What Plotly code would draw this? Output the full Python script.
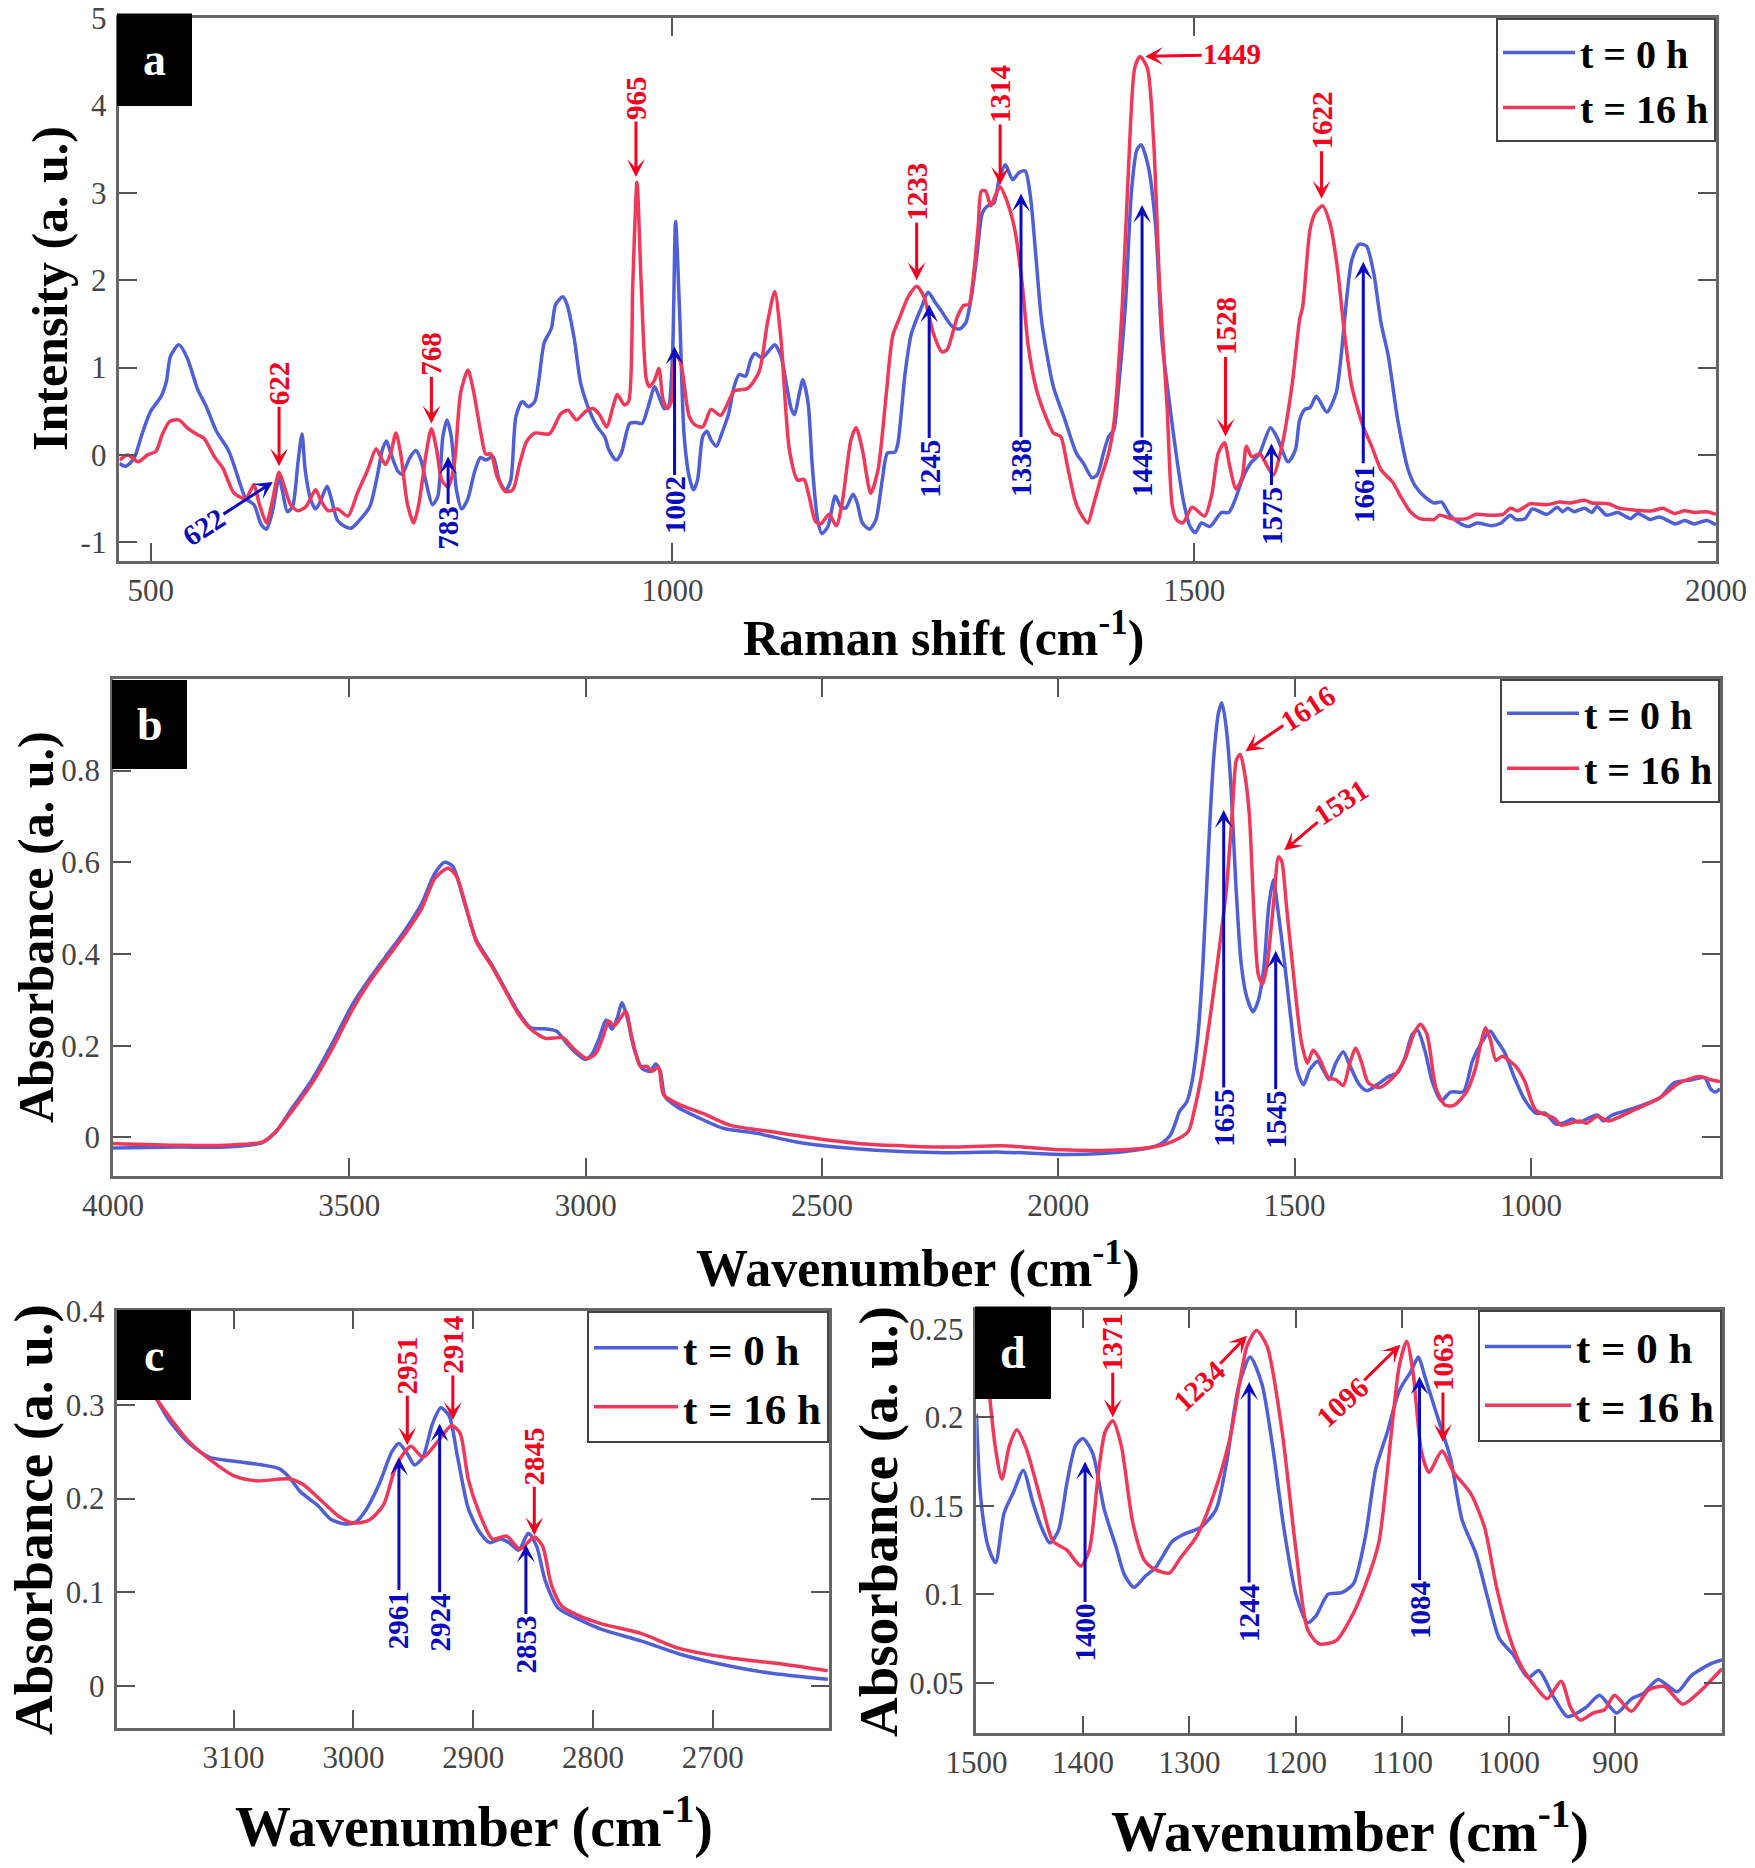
import plotly.graph_objects as go

W, H = 1755, 1868
# the page body keeps its 8px default margin, so everything is drawn 8px in from the corner
PAGE = 8
FIG_W, FIG_H = W - PAGE, H - PAGE
BLUE = '#4e5fd8'
RED = '#f2385a'
LABEL_BLUE = '#0a0ac0'
LABEL_RED = '#f5001e'
SERIF = 'Liberation Serif'

# panel a: Raman
raman_x_0h = [470, 476, 484, 492, 500, 510, 515, 519, 527, 535, 545, 553, 563, 575, 587, 591, 599, 606, 611, 617, 623, 626, 631, 636, 641, 645, 648, 653, 658, 663, 669, 673, 679, 686, 692, 700, 710, 717, 722, 726, 730, 737, 741, 748, 754, 759, 764, 770, 775, 780, 784, 788, 793, 798, 804, 810, 816, 821, 828, 834, 840, 845, 850,
              856, 862, 868, 872, 877, 884, 888, 895, 899, 906, 912, 919, 928, 935, 939, 946, 951, 959, 965, 971, 976, 983, 987, 992, 996, 1000, 1003, 1007, 1011, 1016, 1020, 1024, 1029, 1033, 1037, 1042, 1048, 1054, 1059, 1064, 1070, 1075, 1079, 1086, 1093, 1098, 1104, 1109, 1114, 1117, 1121, 1125, 1130, 1134, 1139, 1143, 1149, 1156, 1161, 1166, 1173, 1177, 1182, 1189, 1195, 1201, 1206, 1213, 1216,
              1223, 1229, 1239, 1245, 1252, 1258, 1268, 1275, 1281, 1287, 1292, 1297, 1302, 1308, 1313, 1319, 1326, 1332, 1338, 1343, 1348, 1354, 1365, 1375, 1387, 1394, 1402, 1407, 1413, 1418, 1423, 1427, 1434, 1440, 1445, 1449, 1456, 1463, 1469, 1475, 1483, 1490, 1496, 1501, 1507, 1515, 1526, 1533, 1539, 1547, 1555, 1562, 1573, 1579, 1590, 1597,
              1601, 1606, 1611, 1617, 1627, 1636, 1641, 1646, 1651, 1658, 1665, 1672, 1679, 1686, 1695, 1705, 1712, 1721, 1730, 1737, 1745, 1754, 1763, 1771, 1785, 1794, 1803, 1808, 1817, 1824, 1838, 1848, 1853, 1858, 1864, 1874, 1881, 1886, 1895, 1906, 1918, 1925, 1937, 1946, 1961, 1970, 1979, 1991, 2000]
raman_y_0h = [-0.10, -0.13, -0.04, 0.25, 0.50, 0.67, 0.84, 1.13, 1.26, 1.11, 0.75, 0.56, 0.27, 0.04, -0.38, -0.50, -0.57, -0.80, -0.85, -0.63, -0.25, -0.40, -0.65, -0.59, -0.10, 0.24, -0.17, -0.50, -0.62, -0.52, -0.36, -0.50, -0.75, -0.82, -0.84, -0.75, -0.59, -0.25, 0.06, 0.16, 0.02, -0.19, -0.22, -0.04, 0.05, -0.06, -0.32, -0.57, -0.48, 0.21, 0.40, 0.21, -0.40, -0.62, -0.50, -0.21, -0.03, -0.06, -0.02, -0.29, -0.41, -0.29, 0.44,
              0.61, 0.55, 0.61, 0.86, 1.28, 1.45, 1.72, 1.81, 1.72, 1.32, 0.82, 0.55, 0.32, 0.21, 0.06, -0.06, 0.02, 0.36, 0.37, 0.36, 0.52, 0.78, 0.67, 0.53, 0.55, 1.13, 2.67, 1.58, 0.25, -0.25, -0.40, -0.29, 0.21, 0.27, 0.17, 0.10, 0.27, 0.48, 0.78, 0.92, 0.90, 1.09, 1.16, 1.11, 1.20, 1.26, 1.13, 0.82, 0.52, 0.46, 0.67, 0.86, 0.59, -0.13, -0.74, -0.90, -0.82, -0.47, -0.59, -0.61, -0.45, -0.55, -0.78, -0.85, -0.74, -0.29, 0.02, 0.03, 0.13,
              0.94, 1.39, 1.70, 1.86, 1.74, 1.64, 1.47, 1.44, 1.51, 1.85, 2.31, 2.77, 2.85, 2.88, 3.15, 3.32, 3.15, 3.23, 3.25, 2.96, 2.31, 1.51, 0.78, 0.44, 0.02, -0.10, -0.26, -0.23, 0.02, 0.21, 0.29, 0.71, 1.70, 3.04, 3.49, 3.55, 3.30, 2.62, 1.32, 0.71, -0.02, -0.55, -0.82, -0.89, -0.78, -0.82, -0.66, -0.66, -0.52, -0.25, -0.08, 0.0, 0.31, 0.21, -0.08, 0.06,
              0.40, 0.52, 0.54, 0.67, 0.49, 0.71, 1.16, 1.78, 2.23, 2.41, 2.39, 2.08, 1.51, 1.13, 0.40, -0.17, -0.36, -0.48, -0.55, -0.54, -0.69, -0.78, -0.82, -0.78, -0.81, -0.78, -0.69, -0.74, -0.73, -0.62, -0.68, -0.60, -0.65, -0.61, -0.65, -0.61, -0.66, -0.59, -0.69, -0.66, -0.73, -0.67, -0.74, -0.71, -0.79, -0.75, -0.79, -0.75, -0.80]
raman_x_16h = [470, 478, 488, 497, 505, 511, 518, 527, 535, 545, 551, 561, 569, 580, 591, 596, 599, 604, 611, 616, 623, 628, 634, 641, 649, 658, 663, 670, 679, 689, 698, 708, 716, 721, 725, 730, 735, 740, 746, 752, 757, 764, 769, 774, 779, 785, 791, 797, 804, 809, 817, 821, 826, 832, 840, 847,
               853, 860, 868, 882, 893, 900, 908, 917, 924, 930, 937, 943, 947, 954, 958, 962, 966, 970, 975, 978, 983, 987, 991, 995, 999, 1003, 1008, 1016, 1022, 1029, 1037, 1046, 1053, 1059, 1072, 1083, 1091, 1098, 1104, 1112, 1120, 1126, 1131, 1137, 1142, 1150, 1157, 1163, 1171, 1176, 1182, 1190, 1197, 1205, 1211,
               1218, 1226, 1234, 1241, 1250, 1258, 1263, 1273, 1279, 1284, 1288, 1293, 1296, 1300, 1305, 1309, 1314, 1320, 1328, 1335, 1341, 1349, 1359, 1365, 1372, 1378, 1386, 1392, 1398, 1403, 1410, 1418, 1423, 1431, 1439, 1443, 1448, 1455, 1461, 1467, 1474, 1479, 1483, 1489, 1498, 1510, 1517, 1523, 1529, 1534, 1540, 1546, 1550, 1555, 1563, 1570, 1576, 1584, 1594, 1601,
               1604, 1611, 1616, 1623, 1630, 1637, 1644, 1651, 1662, 1670, 1679, 1690, 1698, 1707, 1716, 1726, 1730, 1735, 1747, 1761, 1770, 1782, 1796, 1803, 1810, 1822, 1838, 1850, 1860, 1874, 1881, 1897, 1907, 1921, 1939, 1949, 1960, 1970, 1980, 1991, 2000]
raman_y_16h = [-0.06, 0.0, -0.08, 0.0, 0.04, 0.23, 0.38, 0.40, 0.31, 0.23, 0.19, -0.02, -0.15, -0.44, -0.50, -0.40, -0.34, -0.56, -0.78, -0.56, -0.20, -0.36, -0.57, -0.64, -0.59, -0.40, -0.52, -0.64, -0.62, -0.70, -0.44, -0.17, 0.07, -0.04, -0.11, 0.02, 0.25, -0.02, -0.56, -0.78, -0.56, 0.02, 0.30, 0.06, -0.29, -0.37, -0.10, 0.71, 0.97, 0.75, 0.21, 0.01, 0.01, -0.25, -0.42, -0.40,
               -0.13, 0.15, 0.25, 0.24, 0.47, 0.51, 0.40, 0.50, 0.53, 0.46, 0.32, 0.55, 0.69, 0.57, 0.61, 1.97, 3.12, 1.97, 0.86, 0.78, 0.86, 0.99, 0.63, 0.53, 0.61, 1.16, 1.05, 0.44, 0.34, 0.32, 0.52, 0.45, 0.59, 0.73, 0.76, 0.95, 1.51, 1.87, 1.32, 0.06, -0.29, -0.28, -0.48, -0.76, -0.79, -0.68, -0.81, -0.52, 0.17, 0.31, 0.06, -0.44, -0.17, 0.71, 1.36,
               1.58, 1.81, 1.93, 1.81, 1.39, 1.18, 1.20, 1.58, 1.71, 1.72, 2.00, 2.62, 3.02, 3.02, 2.85, 2.96, 3.07, 2.92, 2.58, 1.97, 1.24, 0.74, 0.40, 0.25, 0.21, -0.10, -0.53, -0.69, -0.78, -0.59, -0.29, 0.02, 0.36, 1.70, 3.80, 4.43, 4.56, 4.43, 3.61, 1.89, 0.55, -0.59, -0.74, -0.78, -0.60, -0.70, -0.44, 0.02, 0.14, -0.13, -0.39, -0.25, 0.10, -0.02, 0.01, -0.13, -0.23, 0.10, 0.82, 1.55,
               1.70, 2.58, 2.77, 2.85, 2.65, 2.16, 1.39, 0.78, 0.32, 0.10, -0.17, -0.31, -0.48, -0.65, -0.73, -0.74, -0.74, -0.69, -0.73, -0.73, -0.68, -0.69, -0.68, -0.61, -0.64, -0.56, -0.57, -0.54, -0.55, -0.52, -0.55, -0.56, -0.61, -0.63, -0.64, -0.61, -0.67, -0.64, -0.66, -0.65, -0.68]

# panel b: full FTIR
ftir_x_0h = [4000, 3860, 3761, 3684, 3656, 3621, 3579, 3537, 3495, 3460, 3424, 3382, 3347, 3319, 3298, 3281, 3256, 3231, 3200, 3172, 3144, 3116, 3088, 3062, 3038, 3017, 3001, 2987, 2971, 2957, 2944, 2933, 2923, 2912, 2898, 2881, 2863, 2852, 2842, 2832, 2807, 2765, 2709, 2638, 2554, 2470, 2386, 2259, 2119, 1993, 1908, 1838,
             1805, 1782, 1763, 1751, 1744, 1728, 1717, 1705, 1694, 1682, 1671, 1661, 1654, 1646, 1636, 1624, 1613, 1601, 1588, 1577, 1565, 1555, 1545, 1536, 1521, 1505, 1494, 1481, 1468, 1451, 1440, 1427, 1413, 1397, 1384, 1363, 1347, 1320, 1301, 1282, 1267, 1251, 1240, 1224, 1209, 1190, 1170, 1143, 1124, 1105, 1086, 1074, 1055, 1036, 1013, 990, 970, 947, 928, 913, 899, 860, 847, 828, 782, 728, 697, 659, 632, 620, 609, 600]
ftir_y_0h = [-0.023, -0.021, -0.021, -0.011, 0.012, 0.064, 0.126, 0.203, 0.287, 0.342, 0.393, 0.452, 0.510, 0.576, 0.600, 0.591, 0.510, 0.430, 0.379, 0.327, 0.276, 0.239, 0.237, 0.232, 0.203, 0.181, 0.170, 0.181, 0.217, 0.256, 0.236, 0.261, 0.294, 0.261, 0.195, 0.151, 0.144, 0.160, 0.144, 0.089, 0.067, 0.045, 0.020, 0.009, -0.010, -0.021, -0.028, -0.033, -0.032, -0.037, -0.035, -0.028,
             -0.022, -0.013, 0.005, 0.035, 0.056, 0.078, 0.122, 0.217, 0.378, 0.634, 0.831, 0.926, 0.948, 0.904, 0.787, 0.546, 0.378, 0.305, 0.274, 0.298, 0.371, 0.502, 0.562, 0.502, 0.378, 0.232, 0.144, 0.115, 0.148, 0.166, 0.148, 0.126, 0.162, 0.187, 0.159, 0.115, 0.102, 0.119, 0.133, 0.141, 0.173, 0.225, 0.234, 0.188, 0.122, 0.080, 0.099, 0.100, 0.166, 0.206, 0.232, 0.214, 0.184, 0.133, 0.082, 0.053, 0.053, 0.029, 0.033, 0.040, 0.033, 0.049, 0.036, 0.049, 0.064, 0.086, 0.119, 0.126, 0.130, 0.106, 0.099, 0.106]
ftir_x_16h = [4000, 3860, 3761, 3684, 3656, 3621, 3579, 3537, 3495, 3460, 3424, 3382, 3347, 3319, 3291, 3273, 3253, 3231, 3200, 3172, 3144, 3116, 3085, 3048, 3024, 2996, 2978, 2964, 2951, 2940, 2926, 2915, 2902, 2884, 2870, 2860, 2846, 2835, 2800, 2751, 2695, 2617, 2512, 2400, 2231, 2119, 1993, 1894,
              1805, 1759, 1725, 1713, 1698, 1678, 1659, 1644, 1632, 1623, 1615, 1607, 1596, 1586, 1577, 1568, 1558, 1544, 1534, 1527, 1517, 1501, 1486, 1473, 1461, 1448, 1428, 1413, 1397, 1384, 1371, 1359, 1344, 1320, 1290, 1267, 1247, 1234, 1220, 1201, 1182, 1163, 1136, 1117, 1105, 1096, 1086, 1074, 1061, 1032, 1013, 990, 951, 936, 897, 882, 859, 836, 790, 728, 686, 643, 620, 600]
ftir_y_16h = [-0.013, -0.017, -0.017, -0.010, 0.012, 0.058, 0.118, 0.192, 0.276, 0.335, 0.386, 0.444, 0.499, 0.565, 0.587, 0.569, 0.503, 0.426, 0.375, 0.324, 0.272, 0.236, 0.216, 0.217, 0.192, 0.172, 0.184, 0.217, 0.254, 0.243, 0.261, 0.275, 0.217, 0.155, 0.155, 0.144, 0.153, 0.093, 0.071, 0.052, 0.027, 0.014, -0.002, -0.015, -0.021, -0.018, -0.027, -0.028,
              -0.022, -0.009, 0.013, 0.056, 0.130, 0.268, 0.415, 0.546, 0.707, 0.824, 0.835, 0.802, 0.707, 0.488, 0.356, 0.334, 0.378, 0.517, 0.612, 0.601, 0.502, 0.342, 0.210, 0.162, 0.190, 0.173, 0.130, 0.126, 0.113, 0.159, 0.195, 0.166, 0.119, 0.109, 0.133, 0.170, 0.228, 0.247, 0.225, 0.108, 0.071, 0.070, 0.100, 0.152, 0.210, 0.239, 0.214, 0.168, 0.177, 0.155, 0.122, 0.060, 0.042, 0.027, 0.036, 0.031, 0.046, 0.036, 0.056, 0.086, 0.119, 0.133, 0.126, 0.122]

# panel c: CH stretch region
ch_x_0h = [3197, 3180, 3165, 3154, 3138, 3120, 3099, 3076, 3062, 3053, 3044, 3030, 3019, 3007, 2998, 2989, 2978, 2968, 2962, 2955, 2949, 2942, 2934, 2927, 2920, 2913, 2904, 2895, 2886, 2877, 2870, 2862, 2854, 2847, 2840, 2829, 2810, 2792, 2760, 2728, 2700, 2654, 2604]
ch_y_0h = [0.382, 0.345, 0.308, 0.284, 0.260, 0.244, 0.240, 0.236, 0.232, 0.222, 0.207, 0.193, 0.178, 0.173, 0.175, 0.189, 0.217, 0.250, 0.259, 0.248, 0.236, 0.244, 0.280, 0.297, 0.288, 0.244, 0.189, 0.165, 0.153, 0.157, 0.153, 0.145, 0.163, 0.149, 0.113, 0.083, 0.070, 0.060, 0.048, 0.034, 0.025, 0.014, 0.007]
ch_x_16h = [3197, 3180, 3165, 3154, 3138, 3120, 3099, 3081, 3053, 3042, 3026, 3012, 3000, 2987, 2975, 2964, 2952, 2942, 2929, 2918, 2911, 2904, 2895, 2884, 2872, 2861, 2849, 2842, 2835, 2826, 2810, 2792, 2760, 2728, 2687, 2641, 2604]
ch_y_16h = [0.382, 0.345, 0.308, 0.288, 0.262, 0.242, 0.224, 0.219, 0.221, 0.215, 0.197, 0.181, 0.174, 0.177, 0.193, 0.236, 0.256, 0.244, 0.262, 0.278, 0.270, 0.220, 0.185, 0.157, 0.160, 0.146, 0.159, 0.149, 0.109, 0.085, 0.074, 0.066, 0.056, 0.040, 0.030, 0.023, 0.016]

# panel d: fingerprint region
fp_x_0h = [1500, 1496, 1489, 1482, 1474, 1465, 1456, 1447, 1439, 1431, 1423, 1415, 1407, 1400, 1391, 1380, 1369, 1361, 1352, 1342, 1332, 1316, 1305, 1289, 1275, 1265, 1254, 1243, 1232, 1222, 1211, 1200, 1189, 1181, 1170, 1157, 1146, 1135, 1125, 1114, 1103, 1092, 1085, 1079, 1068, 1055, 1044, 1031, 1020, 1009, 996, 982, 972, 958, 945, 928, 915, 899, 885, 874, 860, 842, 829, 810, 800]
fp_y_0h = [0.202, 0.155, 0.127, 0.118, 0.146, 0.158, 0.170, 0.152, 0.138, 0.129, 0.136, 0.163, 0.184, 0.188, 0.180, 0.148, 0.127, 0.111, 0.104, 0.110, 0.115, 0.130, 0.134, 0.138, 0.148, 0.175, 0.217, 0.234, 0.219, 0.184, 0.136, 0.100, 0.084, 0.088, 0.100, 0.101, 0.106, 0.132, 0.171, 0.192, 0.215, 0.226, 0.234, 0.223, 0.202, 0.177, 0.142, 0.123, 0.098, 0.075, 0.066, 0.053, 0.057, 0.042, 0.031, 0.036, 0.043, 0.033, 0.041, 0.044, 0.052, 0.045, 0.054, 0.061, 0.063]
fp_x_16h = [1498, 1490, 1482, 1476, 1469, 1462, 1453, 1439, 1428, 1415, 1402, 1394, 1385, 1379, 1372, 1364, 1353, 1342, 1332, 1319, 1308, 1294, 1278, 1262, 1246, 1237, 1227, 1213, 1200, 1189, 1178, 1162, 1149, 1135, 1122, 1111, 1103, 1096, 1090, 1082, 1075, 1063, 1052, 1036, 1023, 1012, 999, 988, 974, 964, 951, 942, 933, 921, 910, 901, 885, 869, 854, 837, 821, 800]
fp_y_16h = [0.260, 0.225, 0.182, 0.165, 0.184, 0.193, 0.182, 0.152, 0.130, 0.125, 0.116, 0.125, 0.171, 0.192, 0.198, 0.184, 0.140, 0.119, 0.114, 0.112, 0.121, 0.132, 0.155, 0.188, 0.240, 0.249, 0.240, 0.192, 0.125, 0.080, 0.072, 0.074, 0.086, 0.105, 0.130, 0.188, 0.229, 0.243, 0.225, 0.180, 0.169, 0.181, 0.169, 0.157, 0.138, 0.105, 0.075, 0.059, 0.047, 0.041, 0.051, 0.036, 0.029, 0.033, 0.035, 0.043, 0.034, 0.046, 0.048, 0.038, 0.045, 0.058]

# peak labels: text, x, y, ax, ay, angle
raman_red_peaks = [('622', 623, -0.13, 0, -83, -90), ('768', 769, 0.36, 0, -70, -90), ('965', 965, 3.18, 0, -79, -90),
                   ('1233', 1234, 2.0, 0, -88, -90), ('1314', 1314, 3.09, 0, -91, -90), ('1449', 1453, 4.56, 87, -2, 0),
                   ('1528', 1530, 0.21, 0, -110, -90), ('1622', 1622, 2.93, 0, -78, -90)]
raman_blue_peaks = [('622', 617, -0.31, -69, 45, -33), ('783', 785, -0.02, 0, 71, -90), ('1002', 1002, 1.24, 0, 159, -90),
                    ('1245', 1246, 1.72, 0, 164, -90), ('1338', 1334, 2.99, 0, 274, -90), ('1449', 1450, 2.86, 0, 263, -90),
                    ('1575', 1574, 0.13, 0, 72, -90), ('1661', 1662, 2.21, 0, 232, -90)]
ftir_red_peaks = [('1616', 1604, 0.842, 63, -43, -33), ('1531', 1522, 0.626, 57, -48, -33)]
ftir_blue_peaks = [('1655', 1650, 0.714, 0, 308, -90), ('1545', 1540, 0.407, 0, 169, -90)]
ch_red_peaks = [('2951', 2955, 0.257, 0, -80, -90), ('2914', 2917, 0.284, 0, -75, -90), ('2845', 2849, 0.161, 0, -79, -90)]
ch_blue_peaks = [('2961', 2962, 0.244, 0, 163, -90), ('2924', 2928, 0.28, 0, 199, -90), ('2853', 2856, 0.151, 0, 100, -90)]
fp_red_peaks = [('1371', 1372, 0.2, 0, -75, -90), ('1234', 1246, 0.246, -48, 50, -43), ('1096', 1102, 0.241, -58, 57, -42), ('1063', 1062, 0.186, 0, -80, -90)]
fp_blue_peaks = [('1400', 1398, 0.175, 0, 171, -90), ('1244', 1244, 0.22, 0, 231, -90), ('1084', 1084, 0.223, 0, 234, -90)]

fig = go.Figure()
annotations = []
shapes = []


def fx(px):
    return (px - PAGE) / FIG_W


def fy(py):
    return 1 - (py - PAGE) / FIG_H


def add_panel(n, frame, xrange, yrange, xticks, yticks, ylabels, series, red_peaks, blue_peaks, letter, box,
              xtitle, xtitle_pos, xsize, ytitle, ytitle_pos, ysize, legend_size, legend_item):
    left, top, right, bottom = frame
    sfx = '' if n == 1 else str(n)
    axis = dict(showgrid=False, zeroline=False, showline=True, linecolor='#666', linewidth=2.5, mirror='ticks',
                ticks='inside', ticklen=18, tickwidth=2, tickcolor='#555', ticklabeloverflow='allow',
                tickfont=dict(family=SERIF, size=31, color='#444'))
    fig.layout['xaxis' + sfx] = dict(axis, domain=[fx(left), fx(right)], range=xrange, anchor='y' + sfx,
                                     tickvals=xticks, ticklabelstandoff=0)
    fig.layout['yaxis' + sfx] = dict(axis, domain=[fy(bottom), fy(top)], range=yrange, anchor='x' + sfx,
                                     tickvals=yticks, ticktext=ylabels, ticklabelstandoff=4)
    lg = 'legend' + sfx
    fig.layout[lg] = dict(x=fx(right), y=fy(top), xanchor='right', yanchor='top', bgcolor='white',
                          bordercolor='#444', borderwidth=2, itemwidth=legend_item,
                          font=dict(family=SERIF, size=legend_size, color='black', weight='bold'))
    for name, color, (xs, ys) in zip(['t = 0 h', 't = 16 h'], [BLUE, RED], series):
        fig.add_trace(go.Scatter(x=xs, y=ys, mode='lines', name=name, xaxis='x' + sfx, yaxis='y' + sfx, legend=lg,
                                 line=dict(color=color, width=3.5, shape='spline', smoothing=0.7)))
    for color, peaks in [(LABEL_RED, red_peaks), (LABEL_BLUE, blue_peaks)]:
        for text, px, py, ax, ay, angle in peaks:
            annotations.append(dict(x=px, y=py, xref='x' + sfx, yref='y' + sfx, ax=ax, ay=ay, text=text,
                                    textangle=angle, showarrow=True, arrowhead=3, arrowwidth=3, arrowsize=1,
                                    arrowcolor=color, font=dict(family=SERIF, size=29, color=color, weight='bold')))
    # black letter box
    bl, bt, br, bb = box
    shapes.append(dict(type='rect', xref='paper', yref='paper', x0=fx(bl), x1=fx(br), y0=fy(bb), y1=fy(bt),
                       fillcolor='black', line_width=0, layer='above'))
    centred = dict(xref='paper', yref='paper', xanchor='center', yanchor='middle', showarrow=False)
    annotations.append(dict(centred, x=fx((bl + br) / 2), y=fy((bt + bb) / 2), text=letter,
                            font=dict(family=SERIF, size=46, color='white', weight='bold')))
    # axis titles
    annotations.append(dict(centred, x=fx(xtitle_pos[0]), y=fy(xtitle_pos[1]), text=xtitle,
                            font=dict(family=SERIF, size=xsize, color='black', weight='bold')))
    annotations.append(dict(centred, x=fx(ytitle_pos[0]), y=fy(ytitle_pos[1]), text=ytitle, textangle=-90,
                            font=dict(family=SERIF, size=ysize, color='black', weight='bold')))


WN = 'Wavenumber (cm<sup>-1</sup>)'
ABS = 'Absorbance (a. u.)'
add_panel(1, (119.4, 18, 1716, 560.6), [470, 2000], [-1.21, 5], [500, 1000, 1500, 2000], [-1, 0, 1, 2, 3, 4, 5],
          ['-1', '0', '1', '2', '3', '4', '5'], [(raman_x_0h, raman_y_0h), (raman_x_16h, raman_y_16h)],
          raman_red_peaks, raman_blue_peaks, 'a', (117, 13.5, 192, 106),
          'Raman shift (cm<sup>-1</sup>)', (943, 634), 50, 'Intensity (a. u.)', (50, 289), 50, 40, 72)
add_panel(2, (113, 678.8, 1720, 1176), [4000, 600], [-0.084, 1.0], [4000, 3500, 3000, 2500, 2000, 1500, 1000],
          [0, 0.2, 0.4, 0.6, 0.8], ['0', '0.2', '0.4', '0.6', '0.8'], [(ftir_x_0h, ftir_y_0h), (ftir_x_16h, ftir_y_16h)],
          ftir_red_peaks, ftir_blue_peaks, 'b', (112, 680, 187, 769),
          WN, (918, 1265), 52, ABS, (36, 927), 50, 40, 72)
add_panel(3, (117.4, 1311.4, 829, 1728), [3197, 2603], [-0.045, 0.4], [3100, 3000, 2900, 2800, 2700],
          [0, 0.1, 0.2, 0.3, 0.4], ['0', '0.1', '0.2', '0.3', '0.4'], [(ch_x_0h, ch_y_0h), (ch_x_16h, ch_y_16h)],
          ch_red_peaks, ch_blue_peaks, 'c', (117, 1310, 191, 1400),
          WN, (474, 1823), 56, ABS, (33, 1520), 55, 43, 84)
add_panel(4, (976.4, 1310, 1722, 1733.4), [1500, 800], [0.0215, 0.2606], [1500, 1400, 1300, 1200, 1100, 1000, 900],
          [0.05, 0.1, 0.15, 0.2, 0.25], ['0.05', '0.1', '0.15', '0.2', '0.25'], [(fp_x_0h, fp_y_0h), (fp_x_16h, fp_y_16h)],
          fp_red_peaks, fp_blue_peaks, 'd', (975, 1306.6, 1051, 1399),
          WN, (1350, 1828), 56, ABS, (878, 1522), 55, 43, 86)

fig.update_layout(width=FIG_W, height=FIG_H, margin=dict(l=0, r=0, t=0, b=0, autoexpand=False), plot_bgcolor='white',
                  paper_bgcolor='white', annotations=annotations, shapes=shapes, showlegend=True)

fig.write_html("out.html")
